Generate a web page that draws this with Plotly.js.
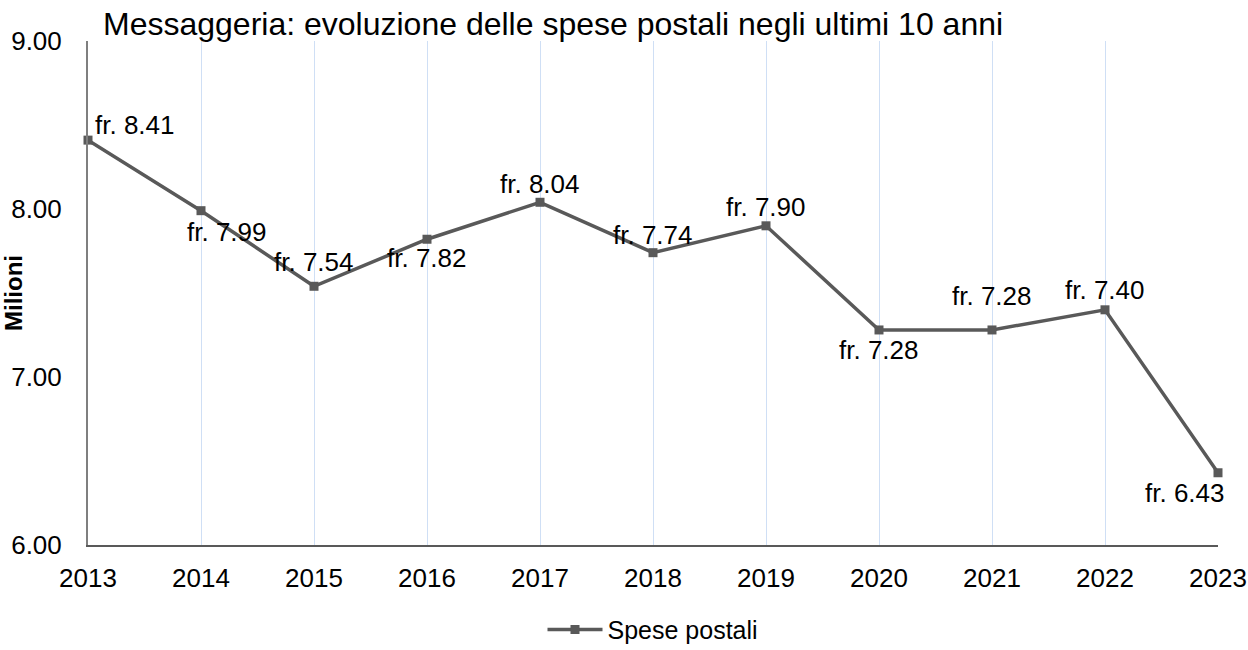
<!DOCTYPE html>
<html>
<head>
<meta charset="utf-8">
<script src="https://cdn.plot.ly/plotly-3.0.1.min.js"></script>
<style>
  html, body { margin: 0; padding: 0; background: #fff; }
  #chart { width: 1248px; height: 650px; }
</style>
</head>
<body>
<div id="chart"></div>
<script>
// Spese postali (milioni di franchi), ultimi 10 anni
var years = [2013, 2014, 2015, 2016, 2017, 2018, 2019, 2020, 2021, 2022, 2023];
var spese = [8.41, 7.99, 7.54, 7.82, 8.04, 7.74, 7.90, 7.28, 7.28, 7.40, 6.43];
var yTicks = [6, 7, 8, 9];

// label offsets in px, like Excel placed them
var labelDx = [47, 26, 0, 0, 0, 0, 0, 0, 0, 0, -33];
var labelDy = [-15, 21, -24, 19, -18, -18, -19, 20, -34, -20, 20];

var fontFam = 'Liberation Sans, Arial, sans-serif';

var trace = {
    x: years,
    y: spese,
    name: 'Spese postali',
    type: 'scatter',
    mode: 'lines+markers',
    cliponaxis: false,
    line: { color: '#595959', width: 3.5 },
    marker: { symbol: 'square', size: 9, color: '#595959' }
};

var labels = years.map(function (yr, i) {
    return {
        x: yr,
        y: spese[i],
        text: 'fr. ' + spese[i].toFixed(2),
        showarrow: false,
        xshift: labelDx[i],
        yshift: -labelDy[i],
        font: { family: fontFam, size: 26, color: '#000' }
    };
});

var layout = {
    width: 1248,
    height: 650,
    margin: { l: 88, r: 30, t: 41, b: 105, autoexpand: false },
    paper_bgcolor: '#fff',
    plot_bgcolor: '#fff',
    font: { family: fontFam, size: 26, color: '#000' },
    title: {
        text: 'Messaggeria: evoluzione delle spese postali negli ultimi 10 anni',
        font: { family: fontFam, size: 32, color: '#000' },
        x: 103 / 1248,
        xanchor: 'left',
        y: 1 - 24 / 650,
        yanchor: 'middle'
    },
    xaxis: {
        range: [2013, 2023],
        tickvals: years,
        ticktext: years.map(String),
        showgrid: true,
        gridcolor: '#cfdff5',
        gridwidth: 1,
        showline: true,
        linecolor: '#595959',
        linewidth: 2,
        ticks: '',
        ticklabelstandoff: 9,
        zeroline: false,
        automargin: false,
        fixedrange: true
    },
    yaxis: {
        range: [6, 9],
        tickvals: yTicks,
        tickformat: '.2f',
        showgrid: false,
        showline: true,
        linecolor: '#7f7f7f',
        linewidth: 2,
        ticks: '',
        ticklabelstandoff: 19,
        zeroline: false,
        automargin: false,
        title: {
            text: '<b>Milioni</b>',
            font: { family: fontFam, size: 24, color: '#000' },
            standoff: 4
        },
        fixedrange: true
    },
    showlegend: true,
    legend: {
        orientation: 'h',
        x: 0.5,
        xanchor: 'center',
        y: -0.168,
        yanchor: 'middle',
        itemwidth: 55,
        font: { family: fontFam, size: 25, color: '#000' }
    },
    annotations: labels,
    hovermode: false
};

Plotly.newPlot('chart', [trace], layout, { displayModeBar: false, staticPlot: true });
</script>
</body>
</html>
